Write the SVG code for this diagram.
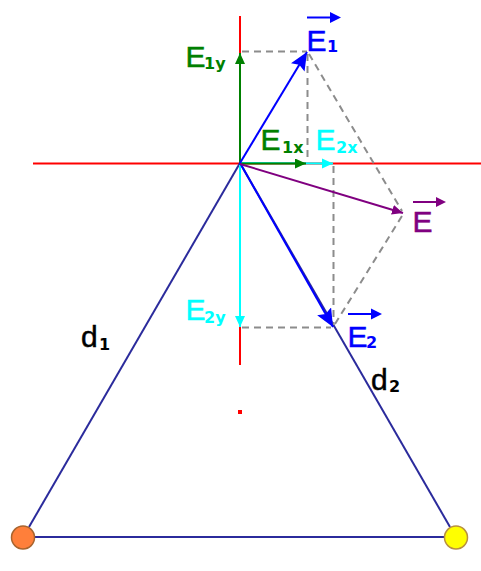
<svg xmlns="http://www.w3.org/2000/svg" width="481" height="571" viewBox="0 0 481 571">
<style>
.ax{stroke:#ff0000;stroke-width:2;fill:none}
.side{stroke:#2b2b9c;stroke-width:2;fill:none}
.dash{stroke:#8c8c8c;stroke-width:2;stroke-dasharray:7 5;fill:none}
.v{stroke-width:2;fill:none}
.t{font-family:"Liberation Sans",Arial,sans-serif;font-size:30px;stroke-width:0.5}
.s{font-family:"DejaVu Sans","Liberation Sans",sans-serif;font-size:16px;font-weight:bold}
</style>
<defs>
<marker id="hb" markerUnits="userSpaceOnUse" markerWidth="22" markerHeight="22" refX="18" refY="8" orient="auto"><path d="M0,0 L18,8 L0,16 L3,8 Z" fill="#0000ff"/></marker>
<marker id="hg" markerUnits="userSpaceOnUse" markerWidth="14" markerHeight="14" refX="11" refY="5" orient="auto"><path d="M0,0 L11,5 L0,10 Z" fill="#008000"/></marker>
<marker id="hc" markerUnits="userSpaceOnUse" markerWidth="14" markerHeight="14" refX="11" refY="5" orient="auto"><path d="M0,0 L11,5 L0,10 Z" fill="#00ffff"/></marker>
<marker id="hp" markerUnits="userSpaceOnUse" markerWidth="14" markerHeight="14" refX="11" refY="5" orient="auto"><path d="M0,0 L11,5 L0,10 Z" fill="#800080"/></marker>
</defs>
<g id="axes">
<line class="ax" x1="33" y1="163.5" x2="481" y2="163.5"/>
<line class="ax" x1="240" y1="16" x2="240" y2="365"/>
<rect x="238" y="410" width="4" height="4" fill="#ff0000"/>
</g>
<g id="connectors">
<line class="side" x1="240" y1="163" x2="29" y2="527"/>
<line class="side" x1="240" y1="163" x2="450" y2="527"/>
<line class="side" x1="35" y1="537" x2="444" y2="537"/>
<g id="construction">
<line class="dash" x1="242" y1="51.5" x2="307" y2="51.5"/>
<line class="dash" x1="307.5" y1="54" x2="307.5" y2="160"/>
<line class="dash" x1="309" y1="54" x2="402" y2="211"/>
<line class="dash" x1="333.5" y1="166" x2="333.5" y2="325"/>
<line class="dash" x1="242" y1="327.5" x2="331" y2="327.5"/>
<line class="dash" x1="335" y1="324" x2="402" y2="216"/>
</g>
<g id="components">
<line class="v" stroke="#00ffff" x1="240" y1="163" x2="333" y2="163.5" marker-end="url(#hc)"/>
<line class="v" stroke="#008000" x1="240" y1="163.5" x2="306" y2="163.5" marker-end="url(#hg)"/>
<line class="v" stroke="#008000" x1="240" y1="163" x2="240" y2="53" marker-end="url(#hg)"/>
<line class="v" stroke="#00ffff" x1="240" y1="165" x2="240" y2="327" marker-end="url(#hc)"/>
</g>
<g id="vectors">
<line class="v" stroke="#0000ff" x1="240" y1="163" x2="307" y2="52" marker-end="url(#hb)"/>
<line class="v" stroke="#0000ff" x1="240" y1="163" x2="333" y2="327" marker-end="url(#hb)"/>
<line class="v" stroke="#800080" x1="240" y1="164" x2="403" y2="213" marker-end="url(#hp)"/>
</g>
</g>
<g id="charge1"><circle cx="23" cy="537.5" r="11.5" fill="#ff7f3a" stroke="#a8642e" stroke-width="1.5"/></g>
<g id="charge2"><circle cx="456" cy="537.5" r="11.5" fill="#ffff00" stroke="#b89040" stroke-width="1.5"/></g>
<g id="labels">
<g id="label-E1" fill="#0000ff" stroke="#0000ff">
<line x1="307" y1="17.5" x2="332" y2="17.5" stroke-width="2"/>
<path d="M330,12 L341,17.5 L330,23 Z" stroke="none"/>
<text class="t" x="306.5" y="50.5">E</text><text class="s" x="327" y="52" stroke="none">1</text>
</g>
<g id="label-E1y" fill="#008000" stroke="#008000"><text class="t" x="185.5" y="67">E</text><text class="s" x="204" y="69" stroke="none">1y</text></g>
<g id="label-E1x" fill="#008000" stroke="#008000"><text class="t" x="260.5" y="149.5">E</text><text class="s" x="282" y="153" stroke="none">1x</text></g>
<g id="label-E2x" fill="#00ffff" stroke="#00ffff"><text class="t" x="315.5" y="149.5">E</text><text class="s" x="336" y="153" stroke="none">2x</text></g>
<g id="label-E2y" fill="#00ffff" stroke="#00ffff"><text class="t" x="185.5" y="320">E</text><text class="s" x="204" y="323" stroke="none">2y</text></g>
<g id="label-E" fill="#800080" stroke="#800080">
<line x1="413" y1="202" x2="438" y2="202" stroke-width="2"/>
<path d="M436,197 L446,202 L436,207 Z" stroke="none"/>
<text class="t" x="412.5" y="232">E</text>
</g>
<g id="label-E2" fill="#0000ff" stroke="#0000ff">
<line x1="348" y1="314" x2="373" y2="314" stroke-width="2"/>
<path d="M371,308.5 L382,314 L371,319.5 Z" stroke="none"/>
<text class="t" x="347.5" y="347">E</text><text class="s" x="366" y="348" stroke="none">2</text>
</g>
<g id="label-d1" fill="#000000" stroke="#000000"><text class="t" x="81" y="347">d</text><text class="s" x="99" y="350" stroke="none">1</text></g>
<g id="label-d2" fill="#000000" stroke="#000000"><text class="t" x="371" y="390">d</text><text class="s" x="389" y="392" stroke="none">2</text></g>
</g>
</svg>
